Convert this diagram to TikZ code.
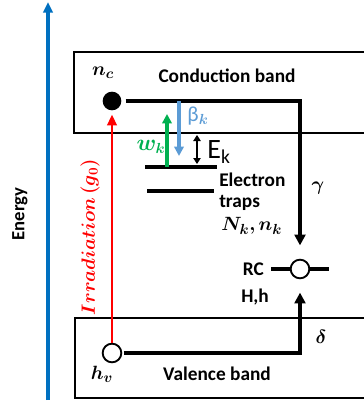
\documentclass[tikz,border=0pt]{standalone}
\usepackage{fontspec}
\usepackage{bm}
\setmainfont{Carlito}
\usetikzlibrary{arrows.meta}
\definecolor{enblue}{RGB}{0,112,192}
\definecolor{lblue}{RGB}{91,155,213}
\definecolor{ogreen}{RGB}{0,176,80}
\definecolor{ored}{RGB}{255,0,0}
\tikzset{
  band/.style={draw=black, line width=0.8pt},
  flow/.style={line width=2.6pt, -{Triangle[length=8pt,width=8pt]}},
  lbl/.style={font=\fontsize{14.5}{16}\selectfont\bfseries, inner sep=0pt},
  mlbl/.style={font=\fontsize{15}{17}\selectfont, inner sep=0pt},
  dot/.style={circle, minimum size=14pt, inner sep=0pt},
}
\begin{document}
\begin{tikzpicture}[x=0.75pt,y=-0.75pt]
\useasboundingbox (0,0) rectangle (364,407);
\clip (0,0) rectangle (364,407);
% energy axis
\coordinate (e0) at (48,400);
\coordinate (e1) at (48,2);
\draw[enblue, line width=2.6pt, -{Triangle[length=8pt,width=7pt]}] (e0) -- (e1);
\node[lbl, rotate=90, font=\fontsize{14}{16}\selectfont\bfseries] (energy) at (20,214) {Energy};
% bands
\draw[band] (74,52) rectangle (380,133);
\draw[band] (75,318) rectangle (380,398);
\node[lbl] (cb) at (227,76) {Conduction band};
\node[lbl] (vb) at (217,374) {Valence band};
% carriers
\node[dot, fill=black] (nc) at (112,101) {};
\node[dot, draw=black, line width=1.4pt, fill=white] (hv) at (112,353) {};
\node[mlbl] (nclbl) at (103,73) {$\bm{n_c}$};
\node[mlbl] (hvlbl) at (102,374) {$\bm{h_v}$};
% irradiation
\draw[ored, line width=2.2pt, shorten >=3pt, -{Triangle[length=8pt,width=7pt]}] (hv.north) -- (nc.south);
\node[mlbl, rotate=90, text=ored, font=\fontsize{14}{16}\selectfont] (irr) at (90,237) {$\bm{Irradiation\,(g_0)}$};
% recombination centre
\coordinate (rcl) at (271,269);
\coordinate (rcr) at (329,269);
\draw[line width=2.6pt] (rcl) -- (rcr);
\node[dot, draw=black, line width=1.4pt, fill=white] (rc) at (300,269) {};
\node[lbl, anchor=east] (rclbl) at (264,269) {RC};
\node[lbl, anchor=west] (hh) at (241,297) {H,h};
% conduction -> RC
\draw[flow, shorten <=3pt, shorten >=10pt] (nc.east) -| (rc.north);
\node[mlbl] (gam) at (318,188) {$\bm{\gamma}$};
% valence -> RC
\draw[flow, shorten <=1pt, shorten >=10pt] (hv.east) -| (rc.south);
\node[mlbl] (del) at (321,337) {$\bm{\delta}$};
% traps
\coordinate (t1a) at (145,167);
\coordinate (t1b) at (217,167);
\coordinate (t2a) at (147,191);
\coordinate (t2b) at (214,191);
\draw[line width=2.6pt] (t1a) -- (t1b);
\draw[line width=2.6pt] (t2a) -- (t2b);
\node[lbl, anchor=west] (et1) at (219,180) {Electron};
\node[lbl, anchor=west] (et2) at (219,203) {traps};
\node[mlbl, anchor=west] (nk) at (221,226) {$\bm{N_k, n_k}$};
% trap transitions
\coordinate (wk0) at (167,167);
\coordinate (wk1) at (167,114);
\draw[ogreen, line width=2.4pt, -{Triangle[length=7pt,width=7pt]}] (wk0) -- (wk1);
\node[mlbl, text=ogreen, font=\fontsize{16}{18}\selectfont] (wklbl) at (151,147) {$\bm{w_k}$};
\coordinate (bk0) at (179,101);
\coordinate (bk1) at (179,156);
\draw[lblue, line width=2.4pt, -{Triangle[length=7pt,width=7pt]}] (bk0) -- (bk1);
\node[mlbl, text=lblue, font=\fontsize{16}{18}\selectfont] (bklbl) at (198,116) {β$_{\bm{k}}$};
\coordinate (ek0) at (197,135);
\coordinate (ek1) at (197,164);
\draw[line width=1.6pt, {Triangle[length=4.5pt,width=5.5pt]}-{Triangle[length=4.5pt,width=5.5pt]}] (ek0) -- (ek1);
\node[inner sep=0pt, font=\fontsize{21}{23}\selectfont] (eklbl) at (219,152) {E\textsubscript{k}};
\end{tikzpicture}
\end{document}
